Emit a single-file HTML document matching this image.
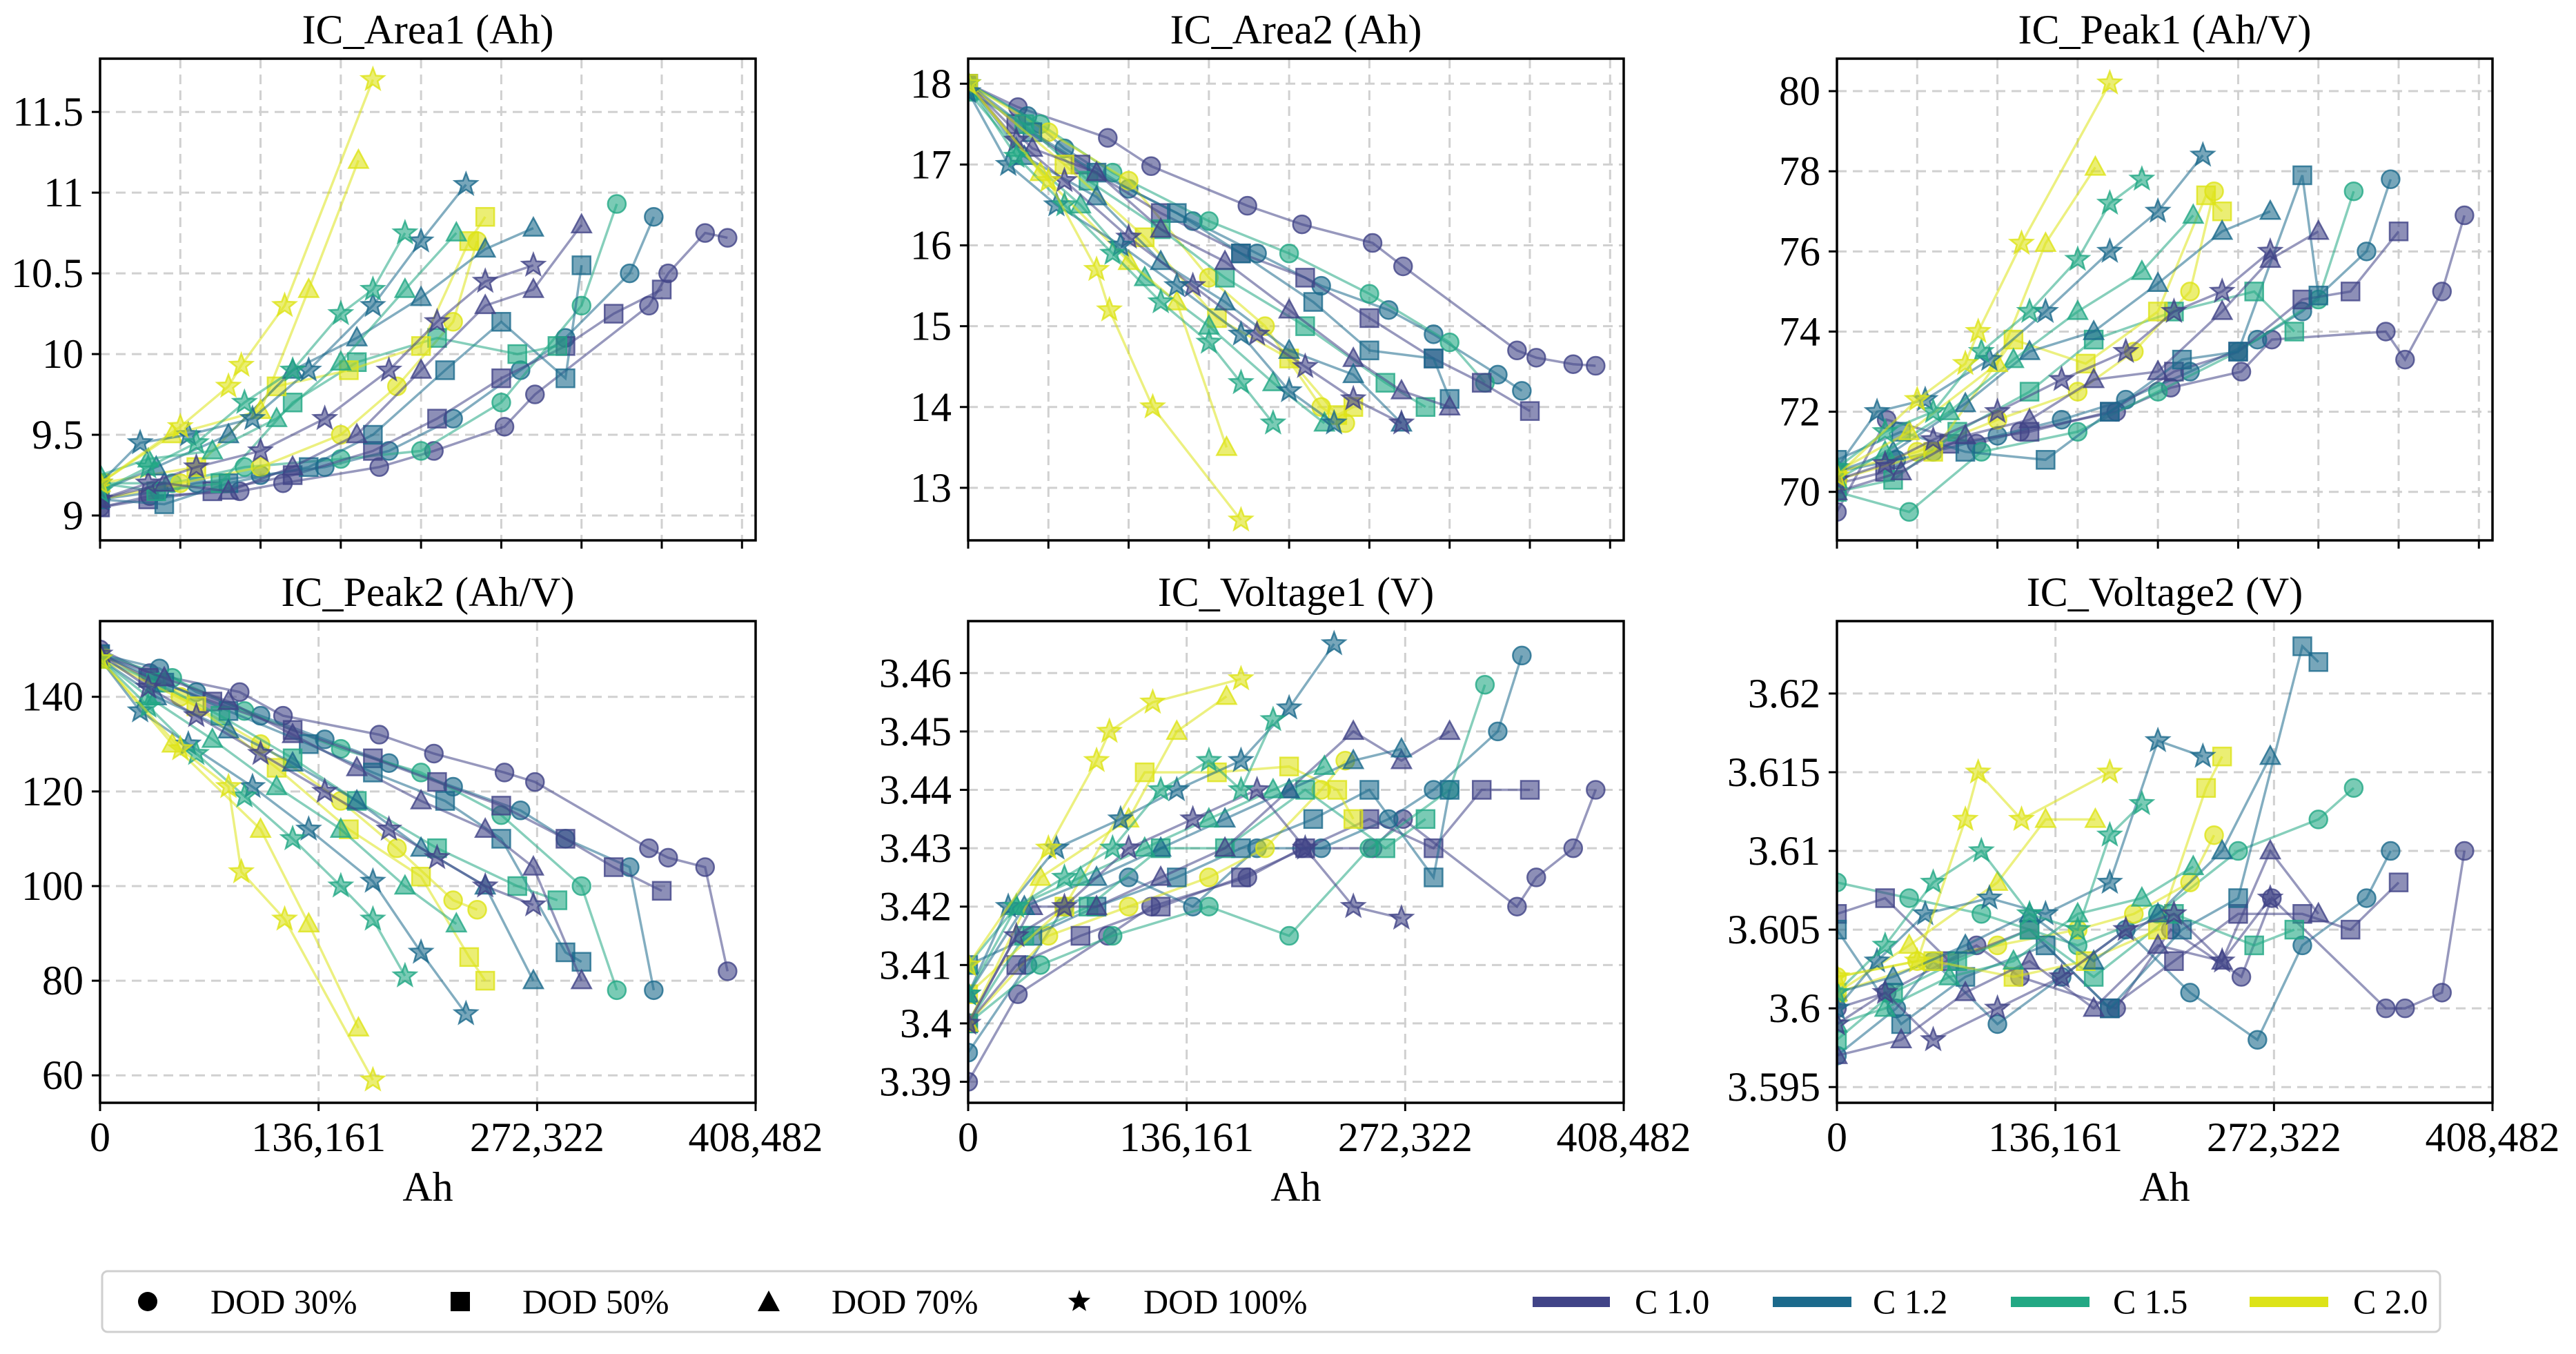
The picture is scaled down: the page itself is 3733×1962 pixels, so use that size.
<!DOCTYPE html>
<html><head><meta charset="utf-8"><style>
html,body{margin:0;padding:0;background:#fff;}
svg{display:block;font-family:"Liberation Serif","DejaVu Serif",serif;}
</style></head><body>
<svg id="chart" xmlns="http://www.w3.org/2000/svg" width="3733" height="1962" viewBox="0 0 3733 1962">
<rect x="0" y="0" width="3733" height="1962" fill="#fff"/>
<g id="panels"></g>
<g id="legend">
  <rect x="148" y="1842" width="3388" height="88" rx="8" fill="#fff" stroke="#cfcfcf" stroke-width="3"/>
  <circle cx="214" cy="1886" r="14" fill="#000"/>
  <text x="305" y="1903" font-size="50">DOD 30%</text>
  <rect x="653" y="1872" width="28" height="28" fill="#000"/>
  <text x="757" y="1903" font-size="50">DOD 50%</text>
  <polygon points="1114,1870 1130,1900 1098,1900" fill="#000"/>
  <text x="1205" y="1903" font-size="50">DOD 70%</text>
  <polygon id="lgstar" fill="#000"/>
  <text x="1657" y="1903" font-size="50">DOD 100%</text>
  <rect x="2221" y="1879" width="112" height="15" fill="#414487"/>
  <text x="2369" y="1903" font-size="50">C 1.0</text>
  <rect x="2569" y="1879" width="114" height="15" fill="#1c6a8c"/>
  <text x="2714" y="1903" font-size="50">C 1.2</text>
  <rect x="2914" y="1879" width="114" height="15" fill="#22a884"/>
  <text x="3062" y="1903" font-size="50">C 1.5</text>
  <rect x="3260" y="1879" width="114" height="15" fill="#dde318"/>
  <text x="3410" y="1903" font-size="50">C 2.0</text>
</g>
</svg>
<script>
// ---- data ----
const rateColors = ["#414487", "#1c6a8c", "#22a884", "#dde318"];
const seriesRate = [0,1,2,3, 0,1,2,3, 0,1,2,3, 0,1,2,3];
const seriesMarker = ["o","o","o","o","s","s","s","s","^","^","^","^","*","*","*","*"];
const seriesX = [
 [0,31,87,114,174,208,252,271,342,354,377,391],
 [0,37,60,100,140,180,220,262,290,330,345],
 [0,45,90,150,200,250,300,322],
 [0,50,100,150,185,220,235],
 [0,30,70,120,170,210,250,290,320,350],
 [0,40,80,130,170,215,250,290,300],
 [0,35,75,120,160,210,260,285],
 [0,60,110,155,200,230,240],
 [0,40,80,120,160,200,240,270,300],
 [0,35,80,120,160,200,240,270],
 [0,30,70,110,150,190,222],
 [0,45,100,130,161],
 [0,30,60,100,140,180,210,240,270],
 [0,25,55,95,130,170,200,228],
 [0,30,60,90,120,150,170,190],
 [0,50,80,88,115,170]
];
const area1Y = [
 [9.05,9.12,9.15,9.2,9.3,9.4,9.55,9.75,10.3,10.5,10.75,10.72],
 [9.1,9.15,9.2,9.25,9.3,9.4,9.6,9.9,10.1,10.5,10.85],
 [9.2,9.2,9.3,9.35,9.4,9.7,10.3,10.93],
 [9.1,9.2,9.3,9.5,9.8,10.2,10.7],
 [9.05,9.1,9.15,9.25,9.4,9.6,9.85,10.05,10.25,10.4],
 [9.1,9.07,9.2,9.3,9.5,9.9,10.2,9.85,10.55],
 [9.2,9.15,9.2,9.7,9.95,10.1,10.0,10.05],
 [9.2,9.3,9.8,9.9,10.05,10.7,10.85],
 [9.1,9.2,9.15,9.3,9.5,9.9,10.3,10.4,10.8],
 [9.15,9.3,9.5,9.9,10.1,10.35,10.65,10.78],
 [9.25,9.35,9.4,9.6,9.95,10.4,10.75],
 [9.2,9.5,9.65,10.4,11.2],
 [9.1,9.2,9.3,9.4,9.6,9.9,10.2,10.45,10.55],
 [9.2,9.45,9.5,9.6,9.9,10.3,10.7,11.05],
 [9.15,9.3,9.45,9.7,9.9,10.25,10.4,10.75],
 [9.2,9.55,9.8,9.93,10.3,11.7]
];
const area2Y = [
 [18,17.71,17.33,16.98,16.49,16.26,16.03,15.74,14.70,14.61,14.53,14.51],
 [18,17.6,17.2,16.7,16.3,15.9,15.5,15.2,14.9,14.4,14.2],
 [18,17.5,16.9,16.3,15.9,15.4,14.8,14.3],
 [18,17.4,16.8,15.6,15.0,14.0,13.8],
 [18,17.5,17.0,16.4,15.9,15.6,15.1,14.6,14.3,13.95],
 [18,17.4,16.9,16.4,15.9,15.3,14.7,14.6,14.1],
 [17.9,17.5,16.8,16.2,15.6,15.0,14.3,14.0],
 [18,17.0,16.1,15.1,14.6,13.9,14.0],
 [18,17.2,16.9,16.2,15.8,15.2,14.6,14.2,14.0],
 [18,17.1,16.6,15.8,15.3,14.7,14.4,13.8],
 [17.9,17.2,16.5,15.6,15.0,14.3,13.8],
 [18,16.9,15.8,15.3,13.5],
 [18,17.3,16.8,16.1,15.5,14.9,14.5,14.1,13.8],
 [17.9,17.0,16.5,16.0,15.5,14.9,14.2,13.8],
 [18,17.1,16.5,15.9,15.3,14.8,14.3,13.8],
 [18,16.8,15.7,15.2,14.0,12.6]
];
const peak1Y = [
 [69.5,71.8,71.2,71.5,72,72.6,73,73.8,74,73.3,75,76.9],
 [70.5,70.8,71,71.4,71.8,72.3,73,73.8,74.5,76,77.8],
 [70,69.5,71,71.5,72.5,73.5,74.8,77.5],
 [70.5,71,71.8,72.5,73.5,75,77.5],
 [70.2,70.5,71.2,71.5,72,73,73.5,74.8,75,76.5],
 [70.8,71.5,71,70.8,72,73.3,73.5,77.9,74.9],
 [70,70.3,71.5,72.5,73.8,74.5,75,74],
 [70.3,71,73.8,73.2,74.5,77.4,77],
 [70,70.5,71.4,71.8,72.8,73,74.5,75.8,76.5],
 [70.5,71,72.2,73.5,74,75.2,76.5,77],
 [70.3,71,72,73.3,74.5,75.5,76.9],
 [70.5,71.5,73.2,76.2,78.1],
 [70.3,70.7,71.3,72,72.8,73.5,74.5,75,76],
 [70.6,72,72.3,73.3,74.5,76,77,78.4],
 [70.6,71.5,72,73.5,74.5,75.8,77.2,77.8],
 [70.4,72.3,73.2,74,76.2,80.2]
];
const peak2Y = [
 [150,145,141,136,132,128,124,122,108,106,104,82],
 [149,146,141,136,131,126,121,116,110,104,78],
 [149,144,137,129,124,115,100,78],
 [149,140,130,118,108,97,95],
 [149,144,139,133,127,122,117,110,104,99],
 [149,143,137,130,124,118,110,86,84],
 [148,143,136,127,118,108,100,97],
 [148,138,125,112,102,85,80],
 [149,144,139,132,125,118,112,104,80],
 [148,140,133,126,118,108,100,80],
 [148,140,131,121,112,100,92],
 [148,130,112,92,70],
 [149,142,136,128,120,112,106,100,96],
 [148,137,130,121,112,101,86,73],
 [148,138,128,119,110,100,93,81],
 [148,129,121,103,93,59]
];
const volt1Y = [
 [3.39,3.405,3.415,3.42,3.425,3.43,3.43,3.435,3.42,3.425,3.43,3.44],
 [3.395,3.41,3.42,3.425,3.42,3.43,3.43,3.435,3.44,3.45,3.463],
 [3.40,3.41,3.415,3.42,3.415,3.43,3.44,3.458],
 [3.40,3.415,3.42,3.425,3.43,3.44,3.445],
 [3.40,3.41,3.415,3.42,3.425,3.43,3.435,3.43,3.44,3.44],
 [3.41,3.415,3.42,3.425,3.43,3.435,3.44,3.425,3.44],
 [3.40,3.415,3.42,3.43,3.43,3.44,3.43,3.435],
 [3.405,3.42,3.443,3.443,3.444,3.44,3.435],
 [3.40,3.42,3.42,3.425,3.43,3.44,3.45,3.445,3.45],
 [3.405,3.42,3.425,3.43,3.435,3.44,3.445,3.447],
 [3.41,3.42,3.425,3.43,3.435,3.44,3.444],
 [3.40,3.425,3.435,3.45,3.456],
 [3.40,3.415,3.42,3.43,3.435,3.44,3.43,3.42,3.418],
 [3.405,3.42,3.43,3.435,3.44,3.445,3.454,3.465],
 [3.405,3.42,3.425,3.43,3.44,3.445,3.44,3.452],
 [3.41,3.43,3.445,3.45,3.455,3.459]
];
const volt2Y = [
 [3.600,3.601,3.604,3.602,3.600,3.605,3.602,3.607,3.600,3.600,3.601,3.610],
 [3.597,3.600,3.603,3.599,3.602,3.605,3.601,3.598,3.604,3.607,3.610],
 [3.608,3.607,3.606,3.604,3.606,3.610,3.612,3.614],
 [3.602,3.603,3.604,3.605,3.606,3.608,3.611],
 [3.606,3.607,3.603,3.605,3.600,3.603,3.606,3.606,3.605,3.608],
 [3.605,3.599,3.602,3.604,3.600,3.605,3.607,3.623,3.622],
 [3.598,3.601,3.603,3.605,3.602,3.606,3.604,3.605],
 [3.601,3.603,3.602,3.603,3.605,3.614,3.616],
 [3.597,3.598,3.601,3.603,3.600,3.604,3.603,3.610,3.606],
 [3.601,3.602,3.604,3.606,3.603,3.606,3.610,3.616],
 [3.599,3.600,3.602,3.603,3.606,3.607,3.609],
 [3.601,3.604,3.608,3.612,3.612],
 [3.599,3.601,3.598,3.600,3.602,3.605,3.606,3.603,3.607],
 [3.600,3.603,3.606,3.607,3.606,3.608,3.617,3.616],
 [3.601,3.604,3.608,3.610,3.606,3.605,3.611,3.613],
 [3.602,3.603,3.612,3.615,3.612,3.615]
];
const panelTitles = ["IC_Area1 (Ah)","IC_Area2 (Ah)","IC_Peak1 (Ah/V)","IC_Peak2 (Ah/V)","IC_Voltage1 (V)","IC_Voltage2 (V)"];
const panelNames = ["ic-area1","ic-area2","ic-peak1","ic-peak2","ic-voltage1","ic-voltage2"];
const yTicks1 = ["9","9.5","10","10.5","11","11.5"];
const yTicks2 = ["13","14","15","16","17","18"];
const yTicks3 = ["70","72","74","76","78","80"];
const yTicks4 = ["60","80","100","120","140"];
const yTicks5 = ["3.39","3.4","3.41","3.42","3.43","3.44","3.45","3.46"];
const yTicks6 = ["3.595","3.6","3.605","3.61","3.615","3.62"];
const xTickLabels = ["0","136,161","272,322","408,482"];
const xTickValues = [0,136.161,272.322,408.482];
const xMinorTicks = [0,50,100,150,200,250,300,350,400];
const yLims = [[8.846,11.83],[12.35,18.31],[68.79,80.81],[54.2,156.0],[3.3864,3.4689],[3.5940,3.6246]];
// ---- layout ----
const NS="http://www.w3.org/2000/svg";
const panelsG=document.getElementById("panels");
const lefts=[145,1403,2662], tops=[85,900], PW=950, PH=698, XMAX=408.482;
const allY=[area1Y,area2Y,peak1Y,peak2Y,volt1Y,volt2Y];
const allTicks=[yTicks1,yTicks2,yTicks3,yTicks4,yTicks5,yTicks6];
function mk(tag,attrs,parent){const e=document.createElementNS(NS,tag);for(const k in attrs)e.setAttribute(k,attrs[k]);parent.appendChild(e);return e;}
function starPts(cx,cy,R){const r=R*0.42;let p=[];for(let i=0;i<10;i++){const a=-Math.PI/2+i*Math.PI/5;const rr=i%2?r:R;p.push((cx+rr*Math.cos(a)).toFixed(1)+","+(cy+rr*Math.sin(a)).toFixed(1));}return p.join(" ");}
document.getElementById("lgstar").setAttribute("points",starPts(1564,1886,17));
for(let p=0;p<6;p++){
  const row=Math.floor(p/3), col=p%3;
  const L=lefts[col], T=tops[row];
  const [y0,y1]=yLims[p];
  const sx=v=>L+v/XMAX*PW;
  const sy=v=>T+PH-(v-y0)/(y1-y0)*PH;
  const g=mk("g",{},panelsG);
  
  
  const gx = row===0 ? xMinorTicks : xTickValues;
  gx.forEach(v=>{const x=sx(v);if(x>L+2&&x<L+PW-2){const ln=mk("line",{x1:x,x2:x,y1:T,y2:T+PH,stroke:"#d0d0d0","stroke-width":3,"stroke-dasharray":"14,9"},g);
    
    }});
  allTicks[p].forEach(t=>{const y=sy(parseFloat(t));const ln=mk("line",{x1:L,x2:L+PW,y1:y,y2:y,stroke:"#d0d0d0","stroke-width":3,"stroke-dasharray":"14,9"},g);
    
    });
  const cp=mk("clipPath",{id:"cp"+p},g);mk("rect",{x:L,y:T,width:PW,height:PH},cp);
  const sg=mk("g",{"clip-path":"url(#cp"+p+")"},g);
  for(let s=0;s<seriesX.length;s++){
    const col2=rateColors[seriesRate[s]];
    const xs=seriesX[s], ys=allY[p][s];
    const pts=xs.map((x,i)=>sx(x).toFixed(1)+","+sy(ys[i]).toFixed(1)).join(" ");
    const pl=mk("polyline",{points:pts,fill:"none",stroke:col2,"stroke-width":3.5,"stroke-opacity":0.55},sg);
    
    
    xs.forEach((x,i)=>{
      const cx=sx(x), cy=sy(ys[i]); let m;
      const st={fill:col2,"fill-opacity":0.6,stroke:col2,"stroke-opacity":0.8,"stroke-width":2.5};
      const mkr=seriesMarker[s];
      if(mkr==="o") m=mk("circle",Object.assign({cx:cx,cy:cy,r:13},st),sg);
      else if(mkr==="s") m=mk("rect",Object.assign({x:cx-13,y:cy-13,width:26,height:26},st),sg);
      else if(mkr==="^") m=mk("polygon",Object.assign({points:`${cx},${cy-15} ${cx+14},${cy+11} ${cx-14},${cy+11}`},st),sg);
      else m=mk("polygon",Object.assign({points:starPts(cx,cy,17)},st),sg);
      
      
    });
  }
  const fr=mk("rect",{x:L,y:T,width:PW,height:PH,fill:"none",stroke:"#000","stroke-width":3.5},g);
  
  
  allTicks[p].forEach(t=>{const y=sy(parseFloat(t));
    mk("line",{x1:L-12,x2:L,y1:y,y2:y,stroke:"#000","stroke-width":3},g);
    const tx=mk("text",{x:L-24,y:y+20,"font-size":60,"text-anchor":"end"},g);tx.textContent=t;
    
    });
  if(row===0){
    xMinorTicks.forEach(v=>{const x=sx(v);mk("line",{x1:x,x2:x,y1:T+PH,y2:T+PH+12,stroke:"#000","stroke-width":3},g);});
  } else {
    xTickValues.forEach((v,i)=>{const x=sx(v);mk("line",{x1:x,x2:x,y1:T+PH,y2:T+PH+12,stroke:"#000","stroke-width":3},g);
      const tx=mk("text",{x:x,y:1668,"font-size":60,"text-anchor":"middle"},g);tx.textContent=xTickLabels[i];
      
      });
    const xt=mk("text",{x:L+PW/2,y:1740,"font-size":60,"text-anchor":"middle"},g);xt.textContent="Ah";
    
    
  }
  const ti=mk("text",{x:L+PW/2,y:T-22,"font-size":60,"text-anchor":"middle"},g);ti.textContent=panelTitles[p];
  
  
}
</script>
</body></html>
